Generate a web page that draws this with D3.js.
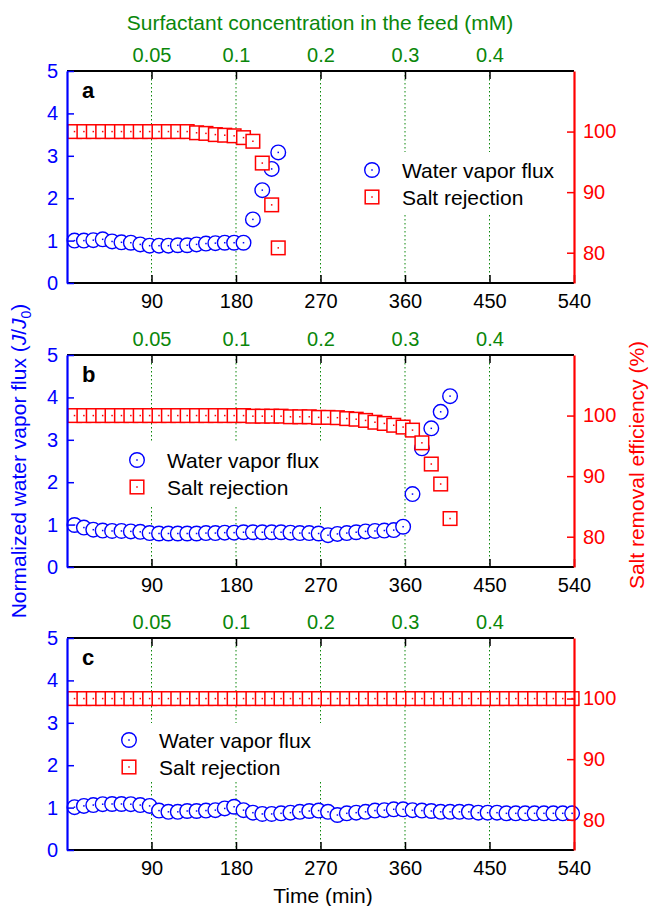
<!DOCTYPE html>
<html>
<head>
<meta charset="utf-8">
<script src="https://cdn.jsdelivr.net/npm/d3@7"></script>
<style>
body { margin: 0; background: #fff; }
text { font-family: "Liberation Sans", Arial, Helvetica, sans-serif; }
</style>
</head>
<body>
<script>
// sample times (min), every 10 min
var times = [8, 18, 28, 38, 48, 58, 68, 78, 88, 98, 108, 118, 128, 138, 148, 158, 168, 178, 188, 198,
             208, 218, 228, 238, 248, 258, 268, 278, 288, 298, 308, 318, 328, 338, 348, 358, 368, 378, 388, 398,
             408, 418, 428, 438, 448, 458, 468, 478, 488, 498, 508, 518, 528, 538];
var timeTicks = [90, 180, 270, 360, 450, 540];
var concTicks = [90, 180, 270, 360, 450];
var concLabels = ["0.05", "0.1", "0.2", "0.3", "0.4"];
var fluxTicks = [0, 1, 2, 3, 4, 5];
var effTicks = [80, 90, 100];

// panel a
var timesA = times.slice(0, 22).concat([225]);
var fluxA = [1.00, 1.00, 1.01, 1.03, 0.98, 0.96, 0.95, 0.91, 0.88, 0.88, 0.88, 0.89, 0.89, 0.91, 0.93, 0.94, 0.95, 0.95, 0.95,
             1.50, 2.19, 2.69, 3.08];
var rejA = [100, 100, 100, 100, 100, 100, 100, 100, 100, 100, 100, 100, 100,
            99.8, 99.7, 99.5, 99.4, 99.3, 99.0, 98.4, 94.8, 87.9, 80.8];

// panel b
var timesB = times.slice(0, 41);
var fluxB = [0.99, 0.93, 0.88, 0.86, 0.85, 0.85, 0.84, 0.83, 0.80, 0.79, 0.79, 0.79, 0.79, 0.79, 0.80, 0.80, 0.81, 0.81,
             0.82, 0.82, 0.82, 0.82, 0.82, 0.81, 0.80, 0.80, 0.79, 0.75, 0.78, 0.80, 0.82, 0.84, 0.85, 0.86, 0.87, 0.95,
             1.72, 2.80, 3.27, 3.66, 4.03];
var rejB = [100, 100, 100, 100, 100, 100, 100, 100, 100, 100, 100, 100, 100, 100, 100, 100, 100, 100, 100,
            99.9, 99.9, 99.9, 99.9, 99.8, 99.8, 99.8, 99.7, 99.7, 99.65, 99.5, 99.4, 99.2, 98.9, 98.7, 98.4, 98.1,
            97.6, 95.5, 92.0, 88.7, 83.0];

// panel c
var timesC = times;
var fluxC = [1.01, 1.04, 1.06, 1.08, 1.085, 1.085, 1.08, 1.06, 1.04, 0.93, 0.90, 0.90, 0.92, 0.92, 0.93, 0.94, 0.98, 1.02,
             0.94, 0.88, 0.85, 0.85, 0.865, 0.88, 0.90, 0.92, 0.93, 0.90, 0.825, 0.865, 0.88, 0.90, 0.93, 0.94, 0.96, 0.96,
             0.94, 0.93, 0.92, 0.90, 0.90, 0.90, 0.90, 0.88, 0.88, 0.88, 0.865, 0.865, 0.865, 0.865, 0.865, 0.865, 0.865, 0.865];
var rejC = [100, 100, 100, 100, 100, 100, 100, 100, 100, 100, 100, 100, 100, 100, 100, 100, 100, 100,
            100, 100, 100, 100, 100, 100, 100, 100, 100, 100, 100, 100, 100, 100, 100, 100, 100, 100,
            100, 100, 100, 100, 100, 100, 100, 100, 100, 100, 100, 100, 100, 100, 100, 100, 100, 100];

var W = 651, H = 906;
var left = 67, right = 574, panelH = 212;
var green = "#0a870a", blue = "#0000ff", red = "#ff0000";

var svg = d3.select("body").append("svg")
    .attr("width", W)
    .attr("height", H);

var x = d3.scaleLinear().domain([0, 540]).range([left, right]);

var panels = [
  {top: 71, letter: "a", t: timesA, flux: fluxA, rej: rejA, leg: {x: 372, y: 170, box: [352, 152, 215, 62]}},
  {top: 355, letter: "b", t: timesB, flux: fluxB, rej: rejB, leg: {x: 137, y: 460, box: [118, 443, 212, 64]}},
  {top: 638, letter: "c", t: timesC, flux: fluxC, rej: rejC, leg: {x: 129, y: 740, box: [110, 723, 212, 58]}}
];

function circleMark(g, cx, cy) {
  g.append("circle").attr("cx", cx).attr("cy", cy).attr("r", 7.3)
    .attr("fill", "#fff").attr("stroke", blue).attr("stroke-width", 1.4);
  g.append("rect").attr("x", cx - 0.75).attr("y", cy - 0.75).attr("width", 1.5).attr("height", 1.5).attr("fill", blue);
}
function squareMark(g, cx, cy) {
  g.append("rect").attr("x", cx - 6.8).attr("y", cy - 6.8).attr("width", 13.6).attr("height", 13.6)
    .attr("fill", "#fff").attr("stroke", red).attr("stroke-width", 1.5);
  g.append("rect").attr("x", cx - 0.75).attr("y", cy - 0.75).attr("width", 1.5).attr("height", 1.5).attr("fill", red);
}

panels.forEach(function(p) {
  var yL = d3.scaleLinear().domain([0, 5]).range([p.top + panelH, p.top]);
  var yR = d3.scaleLinear().domain([75, 110]).range([p.top + panelH, p.top]);
  var g = svg.append("g");

  // green dotted grid at concentration marks
  g.selectAll(".grid").data(concTicks).enter().append("line")
    .attr("x1", function(d) { return x(d); })
    .attr("x2", function(d) { return x(d); })
    .attr("y1", p.top).attr("y2", p.top + panelH)
    .attr("stroke", green).attr("stroke-width", 1)
    .style("stroke-dasharray", "1.5, 2.5");

  // water vapor flux
  p.t.forEach(function(t, i) { circleMark(g, x(t), yL(p.flux[i])); });
  // salt rejection
  p.t.forEach(function(t, i) { squareMark(g, x(t), yR(p.rej[i])); });

  // legend
  var b = p.leg.box;
  g.append("rect").attr("x", b[0]).attr("y", b[1]).attr("width", b[2]).attr("height", b[3]).attr("fill", "#fff");
  circleMark(g, p.leg.x, p.leg.y);
  squareMark(g, p.leg.x, p.leg.y + 27);
  g.append("text").attr("x", p.leg.x + 30).attr("y", p.leg.y + 7.5)
    .attr("font-size", 21).text("Water vapor flux");
  g.append("text").attr("x", p.leg.x + 30).attr("y", p.leg.y + 34.5)
    .attr("font-size", 21).text("Salt rejection");

  // bottom axis
  var bx = g.append("g")
    .attr("transform", "translate(0," + (p.top + panelH) + ")")
    .call(d3.axisBottom(x).tickValues(timeTicks).tickSizeInner(-8).tickSizeOuter(0).tickPadding(11));
  // top axis
  var tx = g.append("g")
    .attr("transform", "translate(0," + p.top + ")")
    .call(d3.axisTop(x).tickValues(concTicks).tickSizeInner(-8).tickSizeOuter(0).tickPadding(9)
      .tickFormat(function(d, i) { return concLabels[i]; }));
  [bx, tx].forEach(function(a) {
    a.select(".domain").attr("stroke", "#000").attr("stroke-width", 2).attr("d", "M" + left + ",0H" + right);
    a.selectAll(".tick line").attr("stroke", "#000").attr("stroke-width", 1.5);
    a.selectAll("text").attr("font-size", 20).attr("font-family", null);
  });
  bx.selectAll("text").attr("fill", "#000");
  tx.selectAll("text").attr("fill", green);

  // left axis
  var lx = g.append("g")
    .attr("transform", "translate(" + left + ",0)")
    .call(d3.axisLeft(yL).tickValues(fluxTicks).tickFormat(d3.format("d"))
      .tickSizeInner(-7).tickSizeOuter(0).tickPadding(9));
  lx.select(".domain").attr("stroke", blue).attr("stroke-width", 2.2);
  lx.selectAll(".tick line").attr("stroke", blue).attr("stroke-width", 1.5);
  lx.selectAll("text").attr("fill", blue).attr("font-size", 20).attr("font-family", null);

  // right axis
  var rx = g.append("g")
    .attr("transform", "translate(" + right + ",0)")
    .call(d3.axisRight(yR).tickValues(effTicks).tickFormat(d3.format("d"))
      .tickSizeInner(-7).tickSizeOuter(0).tickPadding(9));
  rx.select(".domain").attr("stroke", red).attr("stroke-width", 2.2);
  rx.selectAll(".tick line").attr("stroke", red).attr("stroke-width", 1.5);
  rx.selectAll("text").attr("fill", red).attr("font-size", 20).attr("font-family", null);

  // panel letter
  g.append("text").attr("x", 82).attr("y", p.top + 27)
    .attr("font-size", 22).attr("font-weight", "bold").text(p.letter);
});

// top title
svg.append("text")
   .attr("x", 320).attr("y", 30)
   .attr("text-anchor", "middle").attr("font-size", 21).attr("fill", green)
   .text("Surfactant concentration in the feed (mM)");

// x label
svg.append("text")
   .attr("x", 323).attr("y", 903)
   .attr("text-anchor", "middle").attr("font-size", 21)
   .text("Time (min)");

// left y label
var yl = svg.append("text")
   .attr("transform", "translate(26,461) rotate(-90)")
   .attr("text-anchor", "middle").attr("font-size", 21).attr("fill", blue);
yl.append("tspan").text("Normalized water vapor flux (");
yl.append("tspan").attr("font-style", "italic").text("J");
yl.append("tspan").text("/");
yl.append("tspan").attr("font-style", "italic").text("J");
yl.append("tspan").attr("font-size", 14).attr("dy", 5).text("0");
yl.append("tspan").attr("dy", -5).text(")");

// right y label
svg.append("text")
   .attr("transform", "translate(644,465) rotate(-90)")
   .attr("text-anchor", "middle").attr("font-size", 21).attr("fill", red)
   .text("Salt removal efficiency (%)");
</script>
</body>
</html>
